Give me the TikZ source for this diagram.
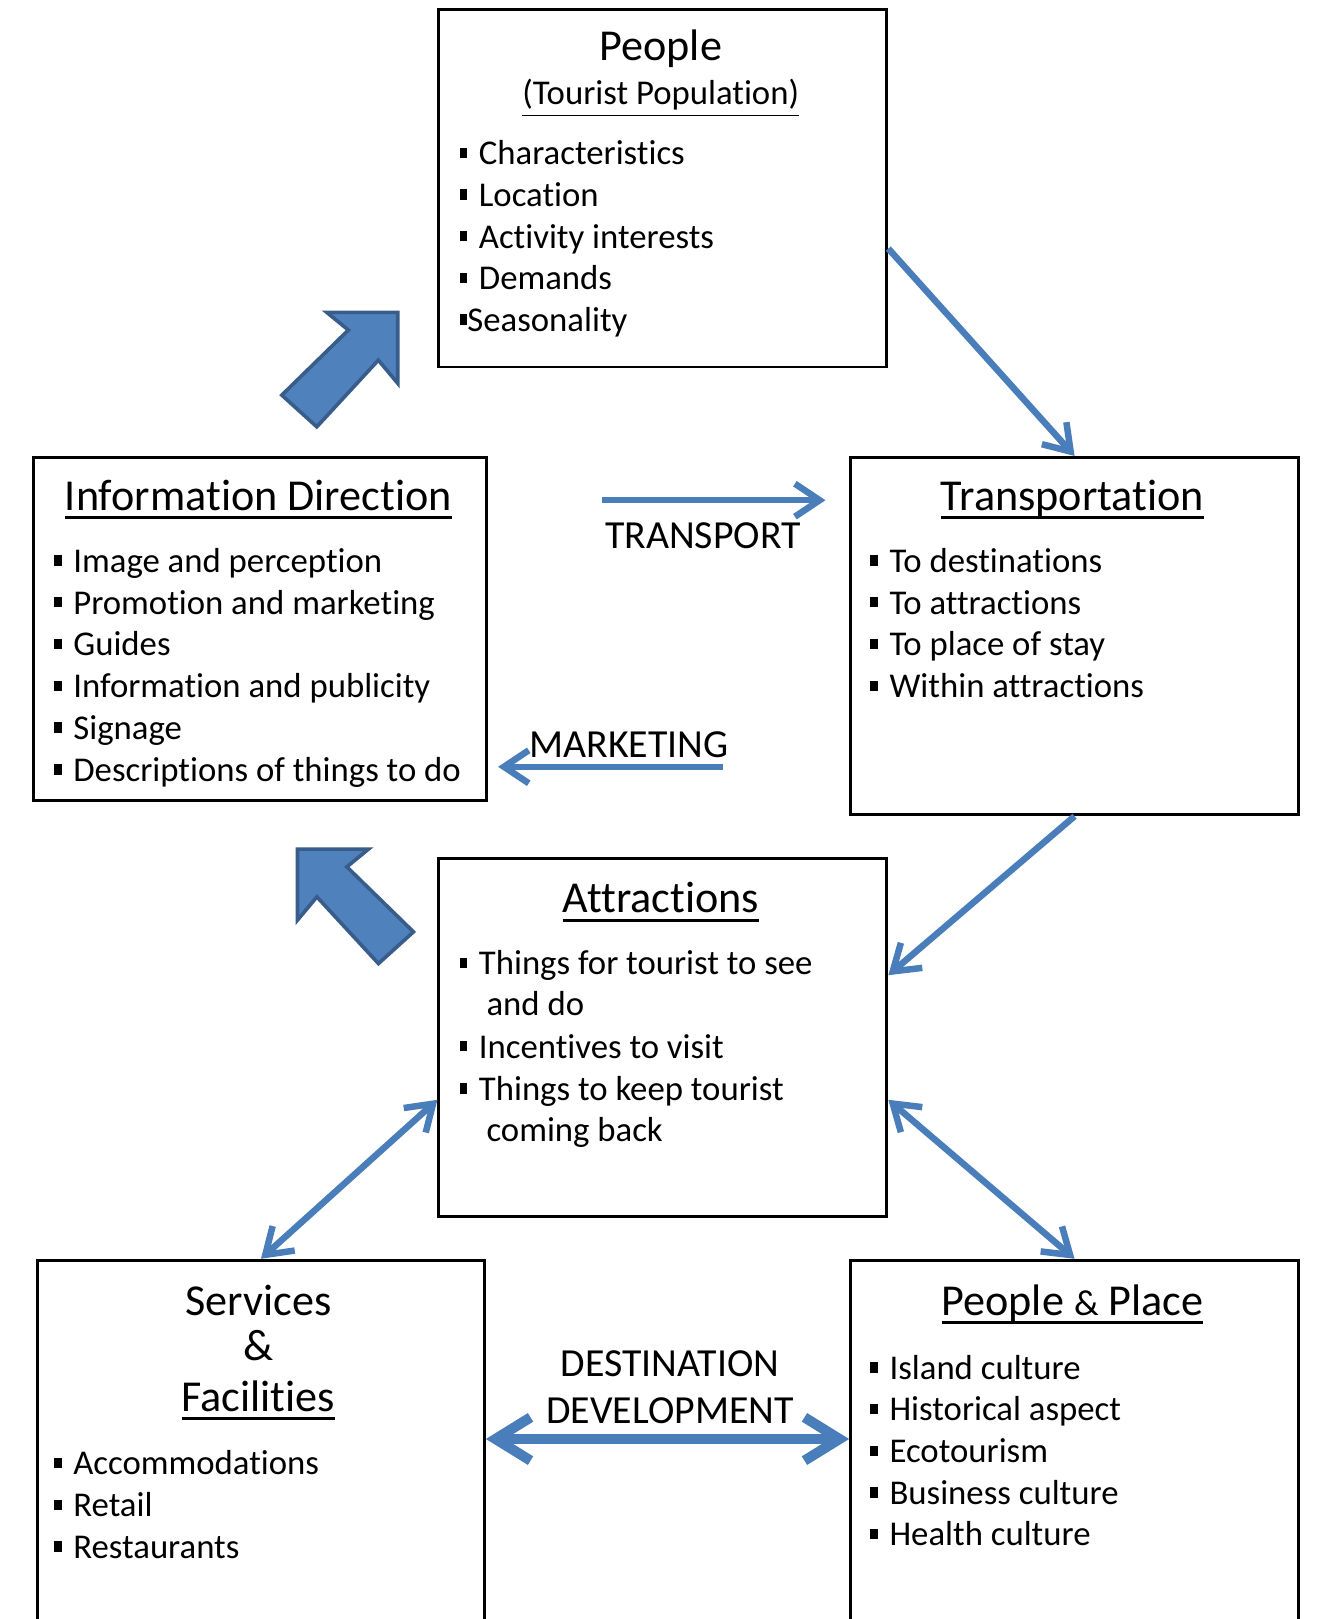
\documentclass[tikz,border=0pt]{standalone}
\usepackage{fontspec}
\setmainfont{Carlito}[Ligatures=NoCommon]
\usetikzlibrary{arrows.meta}
\definecolor{lineblue}{HTML}{4A7EBB}
\definecolor{blockblue}{HTML}{4F81BD}
\definecolor{blockedge}{HTML}{385D8A}
\newcommand{\sq}{\rule[0.19em]{0.22em}{0.3em}}
\newcommand{\blt}{\sq\hspace{0.33em}}
\newcommand{\uln}[1]{\setbox0=\hbox{#1}\rlap{\rule[-0.2em]{\wd0}{0.07em}}\box0}
\newcommand{\bodyfont}{\fontsize{9.6}{11.5}\selectfont}
\newcommand{\headfont}{\fontsize{12.2}{14.6}\selectfont}
\newcommand{\labfont}{\fontsize{11}{13}\selectfont}

\begin{document}
\begin{tikzpicture}[x=0.01cm,y=-0.01cm]
        \tikzstyle{box}=[draw,line width=0.8pt,anchor=north west,inner sep=0pt];
        \tikzstyle{headtext}=[anchor=base,inner sep=0pt,font=\headfont];
        \tikzstyle{item}=[anchor=base west,inner sep=0pt,font=\bodyfont];
        \tikzstyle{lab}=[anchor=base,inner sep=0pt,font=\labfont];
        \tikzstyle{link}=[draw=lineblue,line width=1.8pt,line join=round,-{Straight Barb[length=2.4mm,width=3.2mm]}];
        \tikzstyle{both}=[link,{Straight Barb[length=2.4mm,width=3.2mm]}-{Straight Barb[length=2.4mm,width=3.2mm]}];
        \tikzstyle{wide}=[draw=lineblue,line width=2.8pt,line join=round,{Straight Barb[length=3.4mm,width=4.2mm]}-{Straight Barb[length=3.4mm,width=4.2mm]}];
        \tikzstyle{block}=[fill=blockblue,draw=blockedge,line width=1pt,line join=miter];
        \useasboundingbox (0,0) rectangle (1280,1573);
        %boxes
        \node[box,minimum width=4.35cm,minimum height=3.47cm] (people) at (425,8) {};
        \node[box,minimum width=4.40cm,minimum height=3.33cm] (info) at (31,443) {};
        \node[box,minimum width=4.35cm,minimum height=3.47cm] (trans) at (825,443) {};
        \node[box,minimum width=4.35cm,minimum height=3.47cm] (attr) at (425,833) {};
        \node[box,minimum width=4.34cm,minimum height=3.80cm] (serv) at (35,1223) {};
        \node[box,minimum width=4.35cm,minimum height=3.80cm] (pplace) at (825,1223) {};
        %people
        \node[headtext] (peoplet) at (642,59) {People};
        \node[item,anchor=base] (peoples) at (642,102) {\underline{(Tourist Population)}};
        \foreach \t [count=\i from 0] in {Characteristics,Location,Activity interests,Demands}
            \node[item] (people\i) at (446,160+40.5*\i) {\blt\t};
        \node[item] (people4) at (446,322) {\sq Seasonality};
        %information direction
        \node[headtext] (infot) at (251,496) {\uln{Information Direction}};
        \foreach \t [count=\i from 0] in {Image and perception,Promotion and marketing,Guides,Information and publicity,Signage,Descriptions of things to do}
            \node[item] (info\i) at (52,556+40.6*\i) {\blt\t};
        %transportation
        \node[headtext] (transt) at (1042,496) {\uln{Transportation}};
        \foreach \t [count=\i from 0] in {To destinations,To attractions,To place of stay,Within attractions}
            \node[item] (trans\i) at (845,556+40.6*\i) {\blt\t};
        %attractions
        \node[headtext] (attrt) at (642,887) {\uln{Attractions}};
        \node[item] (attr0) at (446,947) {\blt Things for tourist to see};
        \node[item] (attr1) at (472,987) {and do};
        \node[item] (attr2) at (446,1028) {\blt Incentives to visit};
        \node[item] (attr3) at (446,1069) {\blt Things to keep tourist};
        \node[item] (attr4) at (472,1109) {coming back};
        %services & facilities
        \node[headtext] (servt) at (251,1278) {Services};
        \node[headtext] (servand) at (251,1322) {\&};
        \node[headtext] (servf) at (251,1371) {\uln{Facilities}};
        \foreach \t [count=\i from 0] in {Accommodations,Retail,Restaurants}
            \node[item] (serv\i) at (52,1433+40.5*\i) {\blt\t};
        %people & place
        \node[headtext] (pplacet) at (1042,1278) {\uln{People {\fontsize{10}{12}\selectfont\&} Place}};
        \foreach \t [count=\i from 0] in {Island culture,Historical aspect,Ecotourism,Business culture,Health culture}
            \node[item] (pplace\i) at (845,1340+40.5*\i) {\blt\t};
        %labels
        \node[lab] (transport) at (683,533) {TRANSPORT};
        \node[lab] (marketing) at (611,736) {MARKETING};
        \node[lab] (dest) at (651,1337) {DESTINATION};
        \node[lab] (devel) at (651,1383) {DEVELOPMENT};
        \coordinate (tr1) at (585,486);
        \coordinate (tr2) at (802,486);
        \coordinate (mk1) at (702,745);
        \coordinate (mk2) at (484,745);
        %connectors
        \draw[link] ([yshift=-0.585cm]people.east) -- (trans.north);
        \draw[link] (tr1) -- (tr2);
        \draw[link] (mk1) -- (mk2);
        \draw[link] (trans.south) -- ([yshift=0.605cm]attr.east);
        \draw[both] ([yshift=-0.605cm]attr.west) -- (serv.north);
        \draw[both] ([yshift=-0.605cm]attr.east) -- (pplace.north);
        \draw[wide] ([yshift=-1.75cm]serv.north east) -- ([yshift=-1.75cm]pplace.north west);
        %block arrows
        \draw[block] (386.5,303.5) -- (317.5,303.5) -- (338.5,320.7) -- (273.8,383.9) -- (307.8,414.7) -- (367.6,349.9) -- (386.5,372.5) -- cycle;
        \draw[block] (289,825) -- (358,825) -- (337,842.2) -- (401.7,905.4) -- (367.7,936.2) -- (307.9,871.4) -- (289,894) -- cycle;
    \end{tikzpicture}
\end{document}
